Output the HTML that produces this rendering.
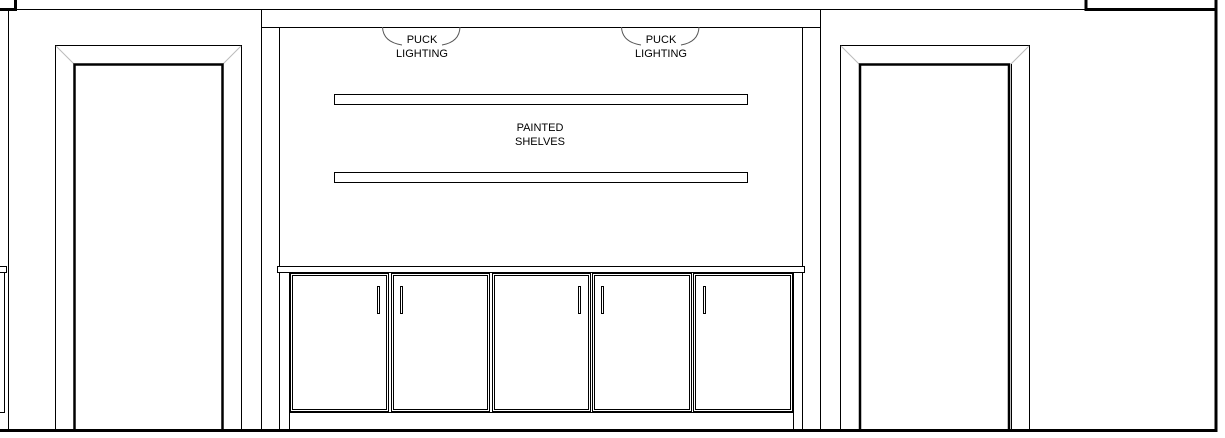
<!DOCTYPE html>
<html><head><meta charset="utf-8"><style>html,body{margin:0;padding:0;background:#fff}svg{display:block}</style></head>
<body>
<svg width="1225" height="438" viewBox="0 0 1225 438" xmlns="http://www.w3.org/2000/svg" font-family="Liberation Sans, sans-serif">
<rect width="1225" height="438" fill="#fff"/>
<g stroke="#000" fill="none" stroke-width="1">
  <polyline points="0,9.5 15.5,9.5 15.5,0" stroke-width="3"/>
  <polyline points="1086,0 1086,9.5 1216,9.5" stroke-width="3"/>
  <line x1="1216" y1="0" x2="1216" y2="432" stroke-width="3"/>
  <line x1="16" y1="9.5" x2="1086" y2="9.5"/>
  <line x1="8.5" y1="9.5" x2="8.5" y2="430"/>
  <!-- left small cabinet -->
  <rect x="-2" y="266.5" width="8.5" height="6"/>
  <rect x="-2" y="272.5" width="6.5" height="140"/>
  <!-- left door -->
  <polyline points="55.5,430 55.5,45.5 241.5,45.5 241.5,430"/>
  <line x1="56" y1="46" x2="74" y2="64" stroke="#bbb"/>
  <line x1="241" y1="46" x2="223" y2="64" stroke="#bbb"/>
  <polyline points="74.5,430 74.5,64.5 222.5,64.5 222.5,430" stroke-width="2.5"/>
  <!-- central built-in -->
  <line x1="261.5" y1="9.5" x2="261.5" y2="430"/>
  <line x1="820.5" y1="9.5" x2="820.5" y2="430"/>
  <line x1="261.5" y1="27.5" x2="820.5" y2="27.5"/>
  <line x1="279.5" y1="27.5" x2="279.5" y2="266"/>
  <line x1="802.5" y1="27.5" x2="802.5" y2="266"/>
  <line x1="279.5" y1="272" x2="279.5" y2="430"/>
  <line x1="802.5" y1="272" x2="802.5" y2="430"/>
  <line x1="289.5" y1="272" x2="289.5" y2="430"/>
  <line x1="793.5" y1="272" x2="793.5" y2="430"/>
  <rect x="277.5" y="266.5" width="527" height="6"/>
  <line x1="289.5" y1="412.5" x2="793.5" y2="412.5"/>
  <rect x="334.5" y="94.5" width="413" height="10"/>
  <rect x="334.5" y="172.5" width="413" height="10"/>
  <!-- puck arcs -->
  <path d="M382.5,27 Q383,42 402,45" stroke="#555"/>
  <path d="M460,27 Q459.5,42 442,45" stroke="#555"/>
  <path d="M621.5,27 Q622,42 641,45" stroke="#555"/>
  <path d="M699,27 Q698.5,42 681,45" stroke="#555"/>
  <g>
    <rect x="290.5" y="273.5" width="98" height="138"/><rect x="292.5" y="275.5" width="94" height="134"/>
    <rect x="391.5" y="273.5" width="98" height="138"/><rect x="393.5" y="275.5" width="94" height="134"/>
    <rect x="492.5" y="273.5" width="98" height="138"/><rect x="494.5" y="275.5" width="94" height="134"/>
    <rect x="592.5" y="273.5" width="99" height="138"/><rect x="594.5" y="275.5" width="95" height="134"/>
    <rect x="693.5" y="273.5" width="99" height="138"/><rect x="695.5" y="275.5" width="95" height="134"/>
  </g>
  <rect x="377.5" y="286.5" width="2" height="27"/>
  <rect x="400.5" y="286.5" width="2" height="27"/>
  <rect x="578.5" y="286.5" width="2" height="27"/>
  <rect x="601.5" y="286.5" width="2" height="27"/>
  <rect x="703.5" y="286.5" width="2" height="27"/>
  <!-- right door -->
  <polyline points="840.5,430 840.5,45.5 1029.5,45.5 1029.5,430"/>
  <line x1="841" y1="46" x2="859" y2="64" stroke="#bbb"/>
  <line x1="1029" y1="46" x2="1011" y2="64" stroke="#bbb"/>
  <polyline points="860,430 860,64.5 1009,64.5 1009,430" stroke-width="2.5"/>
  <line x1="1011.5" y1="64" x2="1011.5" y2="430"/>
  <!-- bottom -->
  <line x1="0" y1="430.5" x2="1217" y2="430.5" stroke-width="3"/>
</g>
<rect x="0" y="432" width="1225" height="6" fill="#fff"/>
<g font-size="11" text-anchor="middle" fill="#000">
  <text x="422" y="43">PUCK</text><text x="422" y="57">LIGHTING</text>
  <text x="661" y="43">PUCK</text><text x="661" y="57">LIGHTING</text>
  <text x="540" y="131">PAINTED</text><text x="540" y="145">SHELVES</text>
</g>
</svg>
</body></html>
